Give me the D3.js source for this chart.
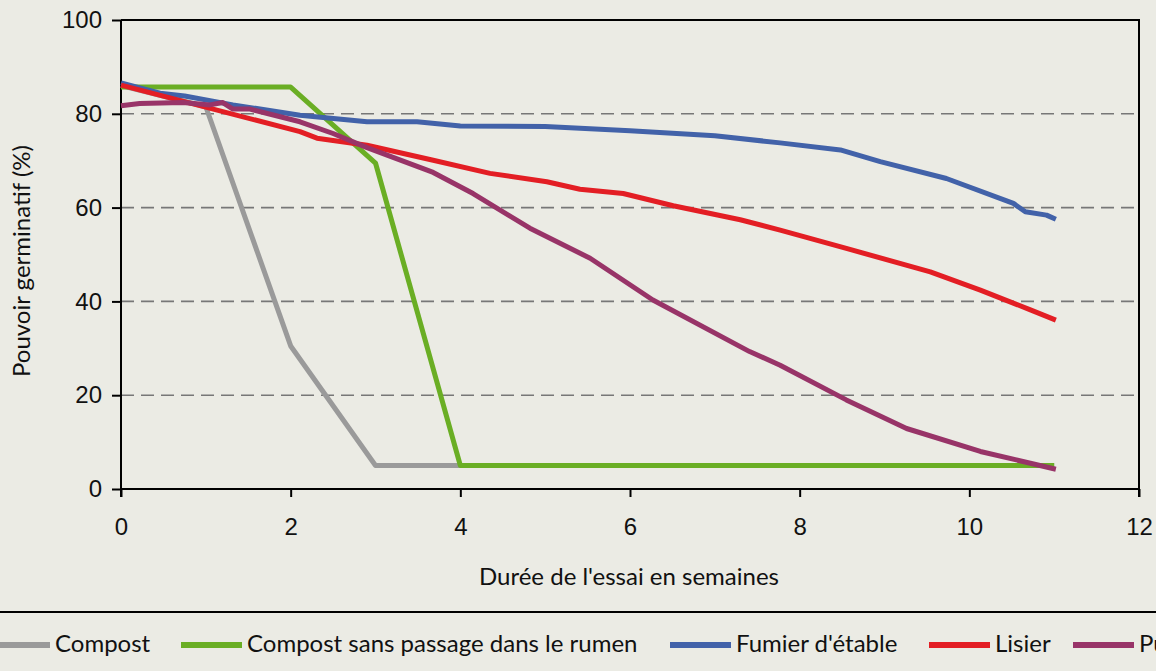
<!DOCTYPE html>
<html>
<head>
<meta charset="utf-8">
<script src="https://d3js.org/d3.v7.min.js"></script>
<style>
  body { margin:0; background:#ebebe4; font-family:Lato, "Open Sans", sans-serif; }
  svg { display:block; background:#ebebe4; }
  .grid line { stroke:#777; stroke-width:1.6px; stroke-dasharray:13,7; }
  .tick-label { font-size:24px; fill:#111; }
  .axis-title { font-size:24px; fill:#111; }
  .legend-text { font-size:24px; fill:#111; }
  .series { fill:none; stroke-width:5px; stroke-linejoin:round; }
</style>
</head>
<body>
<div id="chart"></div>
<script>
// ---- data ----
const xTicks = [0, 2, 4, 6, 8, 10, 12];
const yTicks = [0, 20, 40, 60, 80, 100];
const gridValues = [20, 40, 60, 80];

const seriesNames = ["Compost", "Compost sans passage dans le rumen", "Fumier d'étable", "Lisier", "Purin"];
const seriesColors = ["#9a9a9a", "#6aae24", "#4262a9", "#e31e24", "#983468"];

const compostWeeks = [0, 1, 2, 3, 4, 11];
const compostValues = [86, 81.5, 30.5, 5, 5, 5];

const ruminWeeks = [0, 1, 2, 3, 4, 5, 6, 7, 8, 9, 10, 11];
const ruminValues = [85.7, 85.7, 85.7, 69.5, 5, 5, 5, 5, 5, 5, 5, 5];

const fumierWeeks = [0, 0.46, 0.75, 1.32, 2.11, 2.9, 3.49, 4, 5, 6, 7, 7.77, 8.48, 8.95, 9.73, 10.52, 10.66, 10.91, 11.02];
const fumierValues = [86.6, 84.4, 83.8, 81.9, 79.7, 78.3, 78.3, 77.4, 77.3, 76.4, 75.3, 73.8, 72.3, 69.8, 66.2, 60.9, 59.1, 58.4, 57.5];

const lisierWeeks = [0, 2.11, 2.31, 2.9, 3.68, 4.35, 5.02, 5.41, 5.92, 6.51, 7.3, 7.77, 8.55, 9.54, 10.13, 10.72, 11.02];
const lisierValues = [86.1, 76.2, 74.8, 73.3, 70.1, 67.3, 65.5, 63.9, 63.0, 60.4, 57.4, 55.2, 51.3, 46.3, 42.4, 38.2, 36.0];

const purinWeeks = [0, 0.22, 0.73, 1.05, 1.2, 1.32, 1.52, 2.11, 2.5, 2.9, 3.68, 4.15, 4.82, 5.53, 6.27, 7.41, 7.77, 8.55, 9.26, 10.13, 10.72, 11.02];
const purinValues = [81.7, 82.2, 82.4, 81.9, 82.4, 81.0, 81.0, 78.3, 75.8, 72.8, 67.5, 63.0, 55.6, 49.2, 40.3, 29.3, 26.4, 19.0, 12.9, 8.0, 5.5, 4.2];

const allWeeks = [compostWeeks, ruminWeeks, fumierWeeks, lisierWeeks, purinWeeks];
const allValues = [compostValues, ruminValues, fumierValues, lisierValues, purinValues];

// ---- layout ----
const width = 1156, height = 671;
const plot = { left: 121, top: 20, right: 1139, bottom: 489 };
const legendStarts = [-11, 181, 670, 929, 1073];

const svg = d3.select("#chart").append("svg").attr("width", width).attr("height", height);

const x = d3.scaleLinear().domain([0, 12]).range([plot.left, plot.right]);
const y = d3.scaleLinear().domain([0, 100]).range([plot.bottom, plot.top]);

// dashed grid
svg.append("g").attr("class", "grid")
  .selectAll("line").data(gridValues).enter().append("line")
  .attr("x1", plot.left).attr("x2", plot.right)
  .attr("y1", d => y(d)).attr("y2", d => y(d));

// frame (top + right)
svg.append("path")
  .attr("d", `M${plot.left},${plot.top}H${plot.right}V${plot.bottom + 8}`)
  .attr("fill", "none").attr("stroke", "#000").attr("stroke-width", 2);

// axes
const yAxis = svg.append("g").attr("transform", `translate(${plot.left},0)`)
  .call(d3.axisLeft(y).tickValues(yTicks).tickSize(9).tickPadding(10));
const xAxis = svg.append("g").attr("transform", `translate(0,${plot.bottom})`)
  .call(d3.axisBottom(x).tickValues(xTicks).tickSize(8).tickPadding(21));

[yAxis, xAxis].forEach(ax => {
  ax.select(".domain").remove();
  ax.selectAll(".tick line").attr("stroke", "#000").attr("stroke-width", 2);
  ax.selectAll(".tick text").attr("class", "tick-label").attr("font-family", null).attr("font-size", null);
});
svg.append("line").attr("x1", plot.left).attr("x2", plot.left)
  .attr("y1", plot.top).attr("y2", plot.bottom + 8).attr("stroke", "#000").attr("stroke-width", 2);
svg.append("line").attr("x1", plot.left).attr("x2", plot.right)
  .attr("y1", plot.bottom).attr("y2", plot.bottom).attr("stroke", "#000").attr("stroke-width", 2);

// titles
svg.append("text").attr("class", "axis-title")
  .attr("x", 629).attr("y", 585)
  .attr("text-anchor", "middle").text("Durée de l'essai en semaines");
svg.append("text").attr("class", "axis-title")
  .attr("transform", "translate(30,261) rotate(-90)")
  .attr("text-anchor", "middle").text("Pouvoir germinatif (%)");

// series
const line = d3.line().x(d => x(d[0])).y(d => y(d[1]));
allWeeks.forEach((weeks, i) => {
  const pts = weeks.map((w, j) => [w, allValues[i][j]]);
  svg.append("path").attr("class", "series")
    .attr("stroke", seriesColors[i]).attr("d", line(pts));
});

// legend (runs off the right edge, as in the original)
svg.append("line").attr("x1", 0).attr("x2", width).attr("y1", 612).attr("y2", 612)
  .attr("stroke", "#000").attr("stroke-width", 2);

const legend = svg.append("g");
seriesNames.forEach((name, i) => {
  const lx = legendStarts[i];
  legend.append("line").attr("x1", lx).attr("x2", lx + 61).attr("y1", 645).attr("y2", 645)
    .attr("stroke", seriesColors[i]).attr("stroke-width", 6);
  legend.append("text").attr("class", "legend-text")
    .attr("x", lx + 66).attr("y", 652).text(name);
});
</script>
</body>
</html>
